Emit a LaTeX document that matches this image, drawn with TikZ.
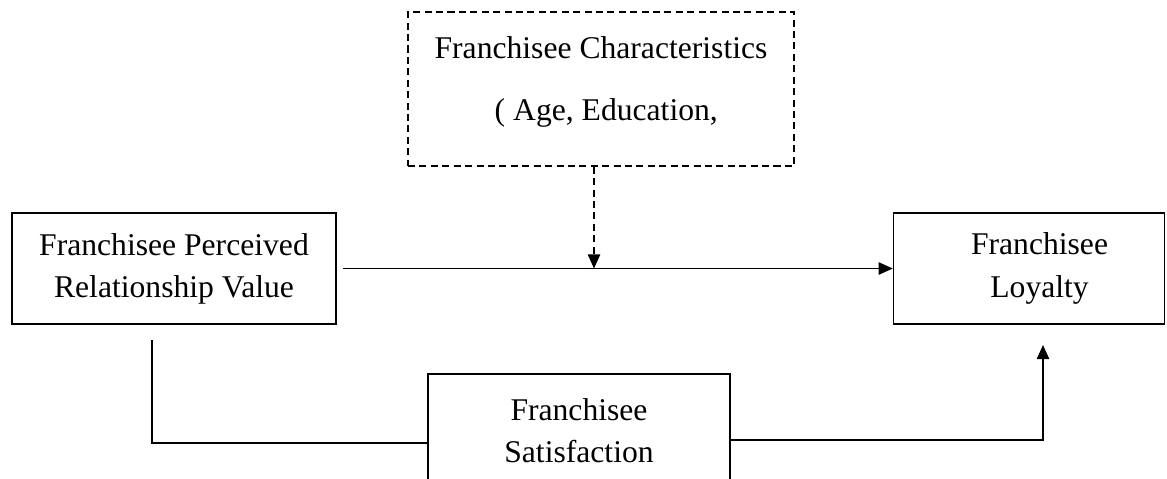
\documentclass[tikz,border=0pt]{standalone}
\usepackage{fontspec}
\setmainfont{Liberation Serif}
\usetikzlibrary{arrows.meta}

\tikzset{
  box/.style={draw, line width=.9pt, align=center, inner sep=0pt,
    font=\fontsize{18}{24}\selectfont},
  dbox/.style={box, dash pattern=on 4pt off 2.5pt},
  link/.style={line width=.9pt},
  tip/.style={-{Triangle[length=8pt,width=7pt]}}
}

\begin{document}
\begin{tikzpicture}[x=0.02cm,y=-0.02cm]
      \clip (0,0) rectangle (1167,478);
      % boxes
      \node[dbox, minimum width=7.72cm, minimum height=3.08cm] (chr) at (601,89)
        {Franchisee Characteristics\\[11pt]\hspace*{6pt}( Age, Education,\\[-12pt]};
      \node[box, minimum width=6.48cm, minimum height=2.22cm] (pv) at (174,268.5)
        {Franchisee Perceived\\Relationship Value};
      \node[box, minimum width=5.42cm, minimum height=2.22cm] (loy) at (1029,268.5)
        {\hspace*{12pt}Franchisee\\\hspace*{12pt}Loyalty};
      \node[box, minimum width=6.04cm, minimum height=2.28cm] (sat) at (579,431)
        {Franchisee\\Satisfaction};
      % free ends of the connectors
      \coordinate (pvout) at (343,268.5);
      \coordinate (mid) at (594,268.5);
      \coordinate (pvdown) at (152,340);
      \coordinate (satin) at (428,443);
      \coordinate (satout) at (730,440);
      \coordinate (loyin) at (1043,345);
      % connectors
      \draw[link, tip] (pvout) -- (loy.west);
      \draw[link, tip, dash pattern=on 4pt off 2.5pt] (chr.south -| mid) -- (mid);
      \draw[link] (pvdown) |- (satin);
      \draw[link, tip] (satout) -| (loyin);
\end{tikzpicture}
\end{document}
